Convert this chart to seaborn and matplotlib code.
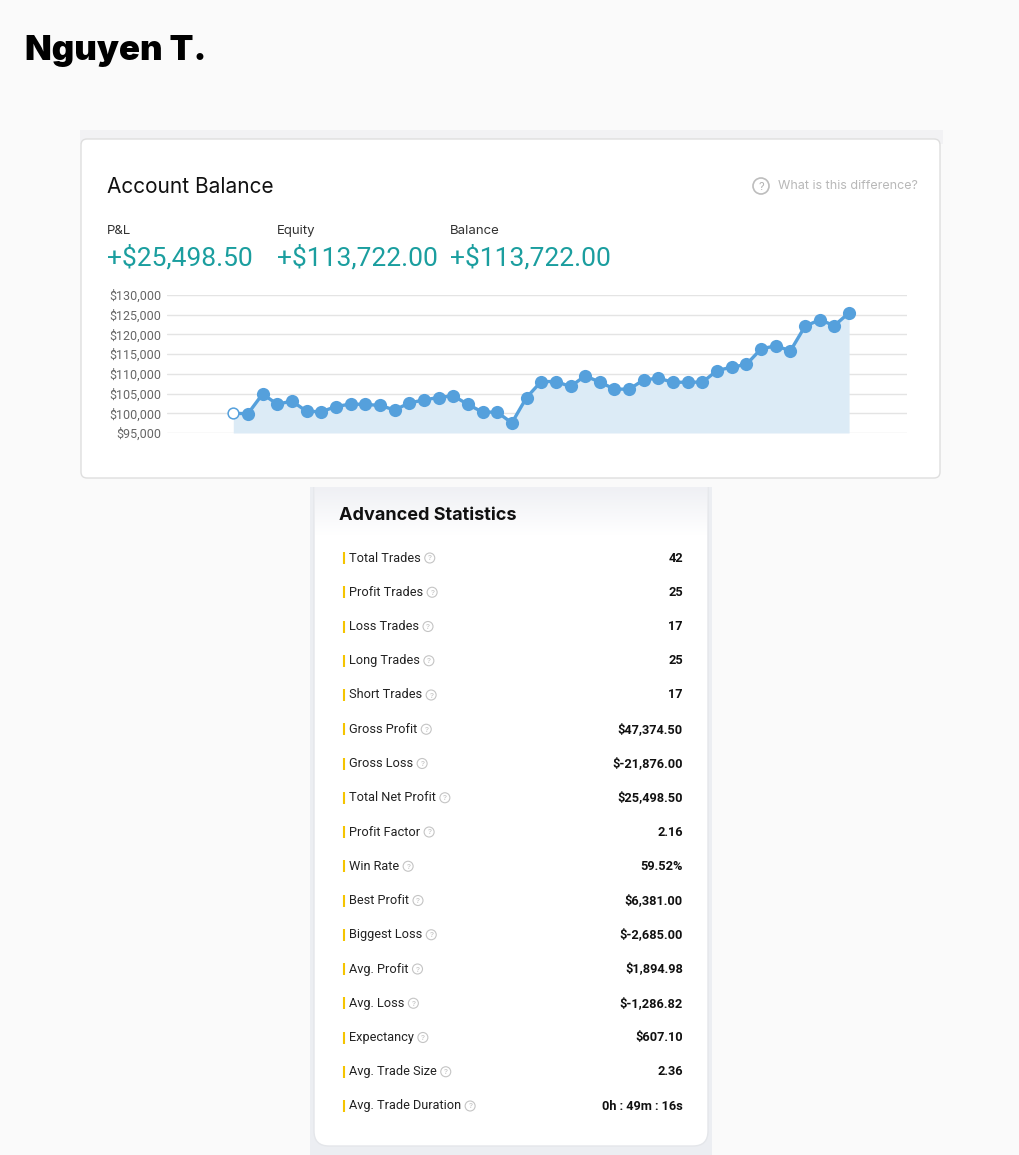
import numpy as np
import matplotlib
matplotlib.use("Agg")
import matplotlib.pyplot as plt
import matplotlib.ticker as mticker
from matplotlib.patches import FancyBboxPatch, Rectangle, Circle
from matplotlib.colors import LinearSegmentedColormap
import seaborn as sns

# ── data ────────────────────────────────────────────────────────
trader_name = "Nguyen T."

balance = [100000, 99900, 104900, 102300, 103100, 100500, 100400, 101700,
           102350, 102250, 102000, 100850, 102600, 103400, 104000, 104450,
           102250, 100300, 100300, 97550, 104000, 108050, 108050, 106800,
           109500, 107900, 106150, 106100, 108500, 108900, 107850, 107900,
           107900, 110850, 111700, 112400, 116350, 117100, 115850, 122100,
           123700, 122250, 125500]
y_ticks = [95000, 100000, 105000, 110000, 115000, 120000, 125000, 130000]

summary_labels = ["P&L", "Equity", "Balance"]
summary_values = ["+$25,498.50", "+$113,722.00", "+$113,722.00"]

stat_labels = ["Total Trades", "Profit Trades", "Loss Trades", "Long Trades",
               "Short Trades", "Gross Profit", "Gross Loss", "Total Net Profit",
               "Profit Factor", "Win Rate", "Best Profit", "Biggest Loss",
               "Avg. Profit", "Avg. Loss", "Expectancy", "Avg. Trade Size",
               "Avg. Trade Duration"]
stat_values = ["42", "25", "17", "25", "17", "$47,374.50", "$-21,876.00",
               "$25,498.50", "2.16", "59.52%", "$6,381.00", "$-2,685.00",
               "$1,894.98", "$-1,286.82", "$607.10", "2.36", "0h : 49m : 16s"]

# ── style ───────────────────────────────────────────────────────
sns.set_theme(style="white")
plt.rcParams["font.family"] = ["Inter", "DejaVu Sans"]
ROBOTO = ["Roboto", "DejaVu Sans"]

BG = "#fafafa"
TEAL = "#1b9e9f"
LINE = "#55a0dc"
FILL = "#dcebf6"

W, H = 1020, 1155
fig = plt.figure(figsize=(W / 100, H / 100), dpi=100, facecolor=BG)

# background axes in pixel coordinates
bg = fig.add_axes([0, 0, 1, 1])
bg.set_xlim(0, W)
bg.set_ylim(H, 0)
bg.axis("off")

# --- stats card (drawn first, top card overlaps) ---------------
bg.add_patch(Rectangle((310, 487), 402, 668, fc="#eceef2", ec="none", zorder=1))
bg.add_patch(FancyBboxPatch((314, 460), 394, 686,
                            boxstyle="round,pad=0,rounding_size=15",
                            fc="white", ec="#e4e6ea", lw=1, zorder=2))
cmap = LinearSegmentedColormap.from_list("shade", ["#eff0f4", "#ffffff"])
bg.imshow(np.linspace(0, 1, 60)[:, None], cmap=cmap, aspect="auto",
          extent=[315, 707, 535, 487], zorder=3)
bg.add_patch(Rectangle((300, 470), 420, 17, fc=BG, ec="none", zorder=4))

# --- top card ---------------------------------------------------
bg.add_patch(Rectangle((80, 130), 863, 14, fc="#f2f2f4", ec="none", zorder=5))
bg.add_patch(FancyBboxPatch((81, 139), 859, 339,
                            boxstyle="round,pad=0,rounding_size=6",
                            fc="white", ec="#dedede", lw=1, zorder=6))
bg.set_xlim(0, W)
bg.set_ylim(H, 0)

# --- texts ------------------------------------------------------
bg.text(25, 51, trader_name, fontsize=25, fontweight="black", color="black",
        va="center", ha="left", zorder=10)

bg.text(107, 187, "Account Balance", fontsize=15, color="#111111",
        va="center", ha="left", zorder=10)
bg.add_patch(Circle((761, 186), 8, fc="none", ec="#bdbdbd", lw=1.2, zorder=10))
bg.text(761, 186.5, "?", fontsize=8, color="#b0b0b0", ha="center", va="center",
        zorder=10)
bg.text(778, 186, "What is this difference?", fontsize=9, color="#b8b8b8",
        va="center", ha="left", zorder=10)

for x0, lab, val in zip([107, 277, 450], summary_labels, summary_values):
    bg.text(x0, 231, lab, fontsize=9.5, color="#333333", va="center",
            ha="left", zorder=10)
    bg.text(x0, 258, val, fontsize=19, color=TEAL, va="center", ha="left",
            family=ROBOTO, zorder=10)

bg.text(339, 516, "Advanced Statistics", fontsize=13, fontweight="bold",
        color="#111111", va="center", ha="left", zorder=10)

fig.canvas.draw()
renderer = fig.canvas.get_renderer()
inv = bg.transData.inverted()
row_y = np.linspace(558, 1106, len(stat_labels))
for y, lab, val in zip(row_y, stat_labels, stat_values):
    bg.plot([344, 344], [y - 6, y + 6], color="#f5c400", lw=1.5, zorder=10,
            solid_capstyle="butt")
    t = bg.text(349, y, lab, fontsize=9.2, color="#222222", va="center",
                ha="left", family=ROBOTO, zorder=10)
    bb = t.get_window_extent(renderer)
    x_end = inv.transform((bb.x1, bb.y0))[0]
    cx = x_end + 9
    bg.add_patch(Circle((cx, y), 5, fc="none", ec="#c4c4c4", lw=0.8, zorder=10))
    bg.text(cx, y + 0.5, "?", fontsize=5.5, color="#b8b8b8", ha="center",
            va="center", zorder=10)
    bg.text(683, y, val, fontsize=9.2, fontweight="bold", color="#111111",
            va="center", ha="right", family=ROBOTO, zorder=10)

# --- balance chart ---------------------------------------------
x0_px, x1_px, top_px, bot_px = 167, 907, 295, 433
ax = fig.add_axes([x0_px / W, 1 - bot_px / H, (x1_px - x0_px) / W,
                   (bot_px - top_px) / H])
ax.set_facecolor("none")
ax.set_zorder(20)

idx = np.arange(len(balance))
ax.fill_between(idx, balance, y_ticks[0], color=FILL, lw=0, zorder=1)
sns.lineplot(x=idx, y=balance, ax=ax, color=LINE, lw=2.4, zorder=3)
sns.scatterplot(x=idx[1:], y=balance[1:], ax=ax, color=LINE, s=90,
                edgecolor=LINE, linewidth=0, zorder=4)
ax.scatter([idx[0]], [balance[0]], s=60, facecolor="white", edgecolor=LINE,
           linewidth=1.1, zorder=5)

ax.set_ylim(y_ticks[0], y_ticks[-1])
ax.set_xlim(-4.52, 45.95)
ax.set_yticks(y_ticks)
ax.yaxis.set_major_formatter(mticker.StrMethodFormatter("${x:,.0f}"))
ax.set_xticks([])
ax.grid(axis="y", color="#e4e4e4", lw=1, zorder=0)
ax.set_axisbelow(True)
ax.tick_params(axis="y", length=0, pad=4, labelsize=9)
for lbl in ax.get_yticklabels():
    lbl.set_color("#666666")
    lbl.set_family(ROBOTO)
for s in ax.spines.values():
    s.set_visible(False)
ax.set_xlabel("")
ax.set_ylabel("")

fig.savefig("out.png", dpi=100, facecolor=BG)
